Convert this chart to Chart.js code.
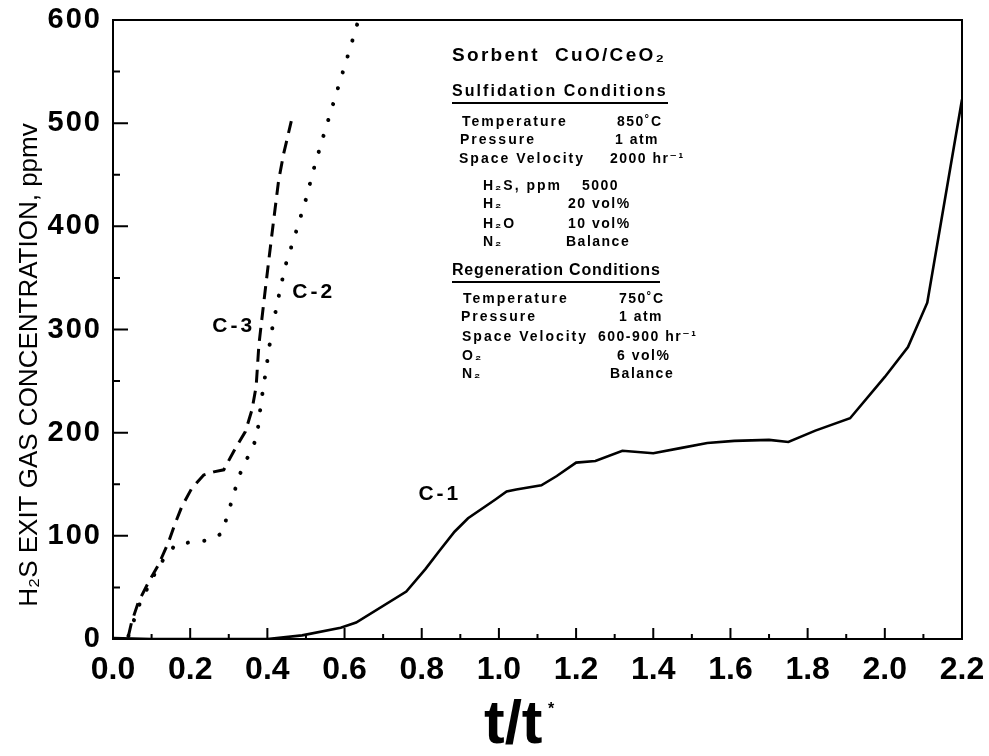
<!DOCTYPE html>
<html>
<head>
<meta charset="utf-8">
<script src="https://cdn.jsdelivr.net/npm/chart.js@4.4.1/dist/chart.umd.min.js"></script>
<style>
  body { margin: 0; background: #fff; }
  #wrap { width: 989px; height: 756px; }
</style>
</head>
<body>
<div id="wrap"><canvas id="chart" width="989" height="756"></canvas></div>
<script>
// values (x = t/t*, y = ppmv)
const c1X = [0.00, 0.10, 0.20, 0.30, 0.40, 0.49, 0.59, 0.63, 0.76, 0.81, 0.845, 0.885, 0.92, 0.99, 1.02, 1.045, 1.11, 1.15, 1.20, 1.25, 1.32, 1.40, 1.47, 1.54, 1.61, 1.70, 1.75, 1.82, 1.91, 2.00, 2.06, 2.11, 2.20];
const c1Y = [1, 0, 0, 0, 0, 3.5, 11, 16, 46, 68, 85, 104, 117, 135, 143, 145, 149, 158, 171, 172.5, 182.5, 180, 185, 190, 192, 193, 191, 202, 214, 254, 283, 326, 523];

const c2X = [0.04, 0.07, 0.12, 0.163, 0.207, 0.252, 0.285, 0.295, 0.309, 0.321, 0.335, 0.356, 0.373, 0.384, 0.397, 0.41, 0.427, 0.446, 0.473, 0.499, 0.522, 0.548, 0.574, 0.60, 0.614, 0.636];
const c2Y = [3, 35, 72, 92, 94, 96, 103, 119, 135, 151, 166, 181, 196, 230, 262, 296, 328, 361, 393, 425, 458, 491, 523, 555, 572, 600];

const c3X = [0.04, 0.048, 0.066, 0.092, 0.118, 0.144, 0.161, 0.178, 0.204, 0.235, 0.261, 0.287, 0.313, 0.343, 0.36, 0.371, 0.378, 0.39, 0.403, 0.416, 0.429, 0.442, 0.462];
const c3Y = [3, 16, 36, 55, 72, 94, 112, 128, 146, 159, 162, 164, 182, 201, 222, 245, 285, 324, 365, 405, 444, 470, 502];

const curveNames = ["C-1", "C-2", "C-3"];
const yTitle = "H\u2082S EXIT GAS CONCENTRATION, ppmv";
const xTitle = "t/t";

// text block inside the plot
const sorbent = "Sorbent  CuO/CeO\u2082";
const sulfHead = "Sulfidation Conditions";
const sulfRows = [
  ["Temperature", "850\u02daC"],
  ["Pressure", "1 atm"],
  ["Space Velocity", "2000 hr\u207b\u00b9"],
  ["H\u2082S, ppm", "5000"],
  ["H\u2082", "20 vol%"],
  ["H\u2082O", "10 vol%"],
  ["N\u2082", "Balance"]
];
const regenHead = "Regeneration Conditions";
const regenRows = [
  ["Temperature", "750\u02daC"],
  ["Pressure", "1 atm"],
  ["Space Velocity", "600-900 hr\u207b\u00b9"],
  ["O\u2082", "6 vol%"],
  ["N\u2082", "Balance"]
];

const toPts = (xs, ys) => xs.map((x, i) => ({ x: x, y: ys[i] }));

function txt(ctx, s, x, y, size, spacing, bold) {
  ctx.font = (bold ? "bold " : "") + size + 'px "Liberation Sans", "DejaVu Sans", sans-serif';
  ctx.letterSpacing = spacing + "px";
  ctx.fillText(s, x, y);
}

const framePlugin = {
  id: "frame",
  beforeDraw(chart) {
    // slightly wider spacing on the y tick labels, as in the scan
    const sy = chart.scales.y;
    if (!sy._spaced) {
      const orig = sy.drawLabels;
      sy.drawLabels = function (area) {
        this.ctx.save();
        this.ctx.letterSpacing = "2px";
        orig.call(this, area);
        this.ctx.restore();
      };
      sy._spaced = true;
    }
  },
  afterDraw(chart) {
    const ctx = chart.ctx, a = chart.chartArea;
    const xs = chart.scales.x, ys = chart.scales.y;
    ctx.save();
    ctx.strokeStyle = "#000";
    ctx.fillStyle = "#000";
    ctx.lineWidth = 2;
    ctx.strokeRect(a.left, a.top, a.right - a.left, a.bottom - a.top);

    // inward ticks
    ctx.beginPath();
    for (let i = 0; i <= 22; i++) {
      const px = xs.getPixelForValue(i / 10);
      ctx.moveTo(px, a.bottom);
      ctx.lineTo(px, a.bottom - (i % 2 === 0 ? 11 : 5));
    }
    for (let v = 50; v < 600; v += 50) {
      const py = ys.getPixelForValue(v);
      ctx.moveTo(a.left, py);
      ctx.lineTo(a.left + (v % 100 === 0 ? 15 : 7), py);
    }
    ctx.stroke();

    // axis titles
    ctx.textBaseline = "middle";
    ctx.textAlign = "center";
    ctx.save();
    ctx.translate(30, 365);
    ctx.rotate(-Math.PI / 2);
    txt(ctx, yTitle, 0, 0, 26, 0, false);
    ctx.restore();

    ctx.textAlign = "left";
    ctx.textBaseline = "alphabetic";
    txt(ctx, xTitle, 484, 743, 62, 0, true);
    txt(ctx, "*", 548, 714, 16, 0, true);

    // curve labels
    ctx.textBaseline = "middle";
    ctx.textAlign = "center";
    txt(ctx, curveNames[0], xs.getPixelForValue(0.847), ys.getPixelForValue(140), 21, 3, true);
    txt(ctx, curveNames[1], xs.getPixelForValue(0.52), ys.getPixelForValue(336), 21, 3, true);
    txt(ctx, curveNames[2], xs.getPixelForValue(0.313), ys.getPixelForValue(303), 21, 3, true);

    // conditions block
    ctx.textAlign = "left";
    txt(ctx, sorbent, 452, 56, 19, 2.3, true);
    txt(ctx, sulfHead, 452, 92, 16, 2.05, true);
    txt(ctx, regenHead, 452, 271, 16, 0.8, true);
    ctx.lineWidth = 2;
    ctx.beginPath();
    ctx.moveTo(452, 103); ctx.lineTo(668, 103);
    ctx.moveTo(452, 282); ctx.lineTo(660, 282);
    ctx.stroke();

    const sulfPos = [[462, 617, 122], [460, 615, 140], [459, 610, 159], [483, 582, 186], [483, 568, 204], [483, 568, 224], [483, 566, 242]];
    sulfRows.forEach((r, i) => {
      txt(ctx, r[0], sulfPos[i][0], sulfPos[i][2], 14, 2, true);
      txt(ctx, r[1], sulfPos[i][1], sulfPos[i][2], 14, 1.5, true);
    });
    const regenPos = [[463, 619, 299], [461, 619, 317], [462, 598, 337], [462, 617, 356], [462, 610, 374]];
    regenRows.forEach((r, i) => {
      txt(ctx, r[0], regenPos[i][0], regenPos[i][2], 14, 2, true);
      txt(ctx, r[1], regenPos[i][1], regenPos[i][2], 14, 1.5, true);
    });
    ctx.restore();
  }
};

const chart = new Chart(document.getElementById("chart"), {
  type: "scatter",
  data: {
    datasets: [
      { label: curveNames[0], data: toPts(c1X, c1Y), showLine: true, borderColor: "#000", borderWidth: 2.6, pointRadius: 0, tension: 0 },
      { label: curveNames[1], data: toPts(c2X, c2Y), showLine: true, borderColor: "#000", borderWidth: 4, borderDash: [0.1, 16.5], borderCapStyle: "round", pointRadius: 0, tension: 0 },
      { label: curveNames[2], data: toPts(c3X, c3Y), showLine: true, borderColor: "#000", borderWidth: 3, borderDash: [13, 8], pointRadius: 0, tension: 0 }
    ]
  },
  options: {
    responsive: false,
    animation: false,
    layout: { padding: { top: 20, right: 27, left: 0, bottom: 0 } },
    plugins: { legend: { display: false }, tooltip: { enabled: false } },
    scales: {
      x: {
        type: "linear", min: 0, max: 2.2,
        grid: { display: false, drawTicks: false },
        border: { display: false },
        ticks: {
          stepSize: 0.2, padding: 12, color: "#000",
          font: { family: "Liberation Sans", size: 32, weight: "bold" },
          callback: v => v.toFixed(1)
        },
        afterFit: s => { s.height = 117; s.paddingLeft = 0; s.paddingRight = 0; }
      },
      y: {
        min: 0, max: 600,
        grid: { display: false, drawTicks: false },
        border: { display: false },
        ticks: {
          stepSize: 100, padding: 11, color: "#000",
          font: { family: "Liberation Sans", size: 29, weight: "bold" }
        },
        afterFit: s => { s.width = 113; s.paddingTop = 0; s.paddingBottom = 0; }
      }
    }
  },
  plugins: [framePlugin]
});
</script>
</body>
</html>
